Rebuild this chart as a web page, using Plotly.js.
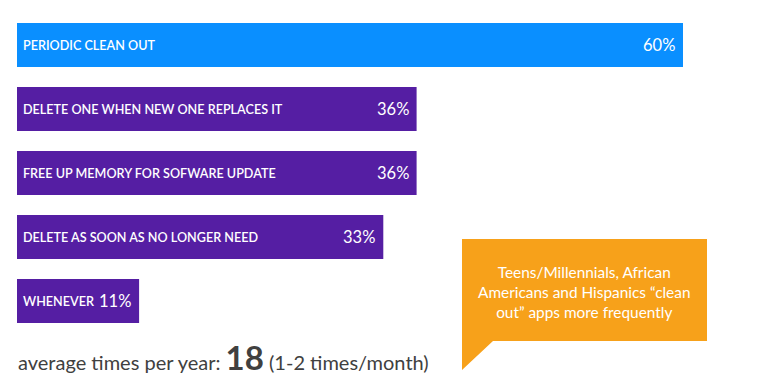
<!DOCTYPE html>
<html>
<head>
<meta charset="utf-8">
<script src="https://cdn.plot.ly/plotly-3.0.1.min.js"></script>
<style>html,body{margin:0;padding:0;background:#fff;}#chart{width:763px;height:388px;}</style>
</head>
<body>
<div id="chart"></div>
<script>
// ---- data ----
const categories = [
  "PERIODIC CLEAN OUT",
  "DELETE ONE WHEN NEW ONE REPLACES IT",
  "FREE UP MEMORY FOR SOFWARE UPDATE",
  "DELETE AS SOON AS NO LONGER NEED",
  "WHENEVER"
];
const values = [60, 36, 36, 33, 11];
const valueLabels = ["60%", "36%", "36%", "33%", "11%"];
const barColors = ["#0A8FFF", "#551EA3", "#551EA3", "#551EA3", "#551EA3"];
const footnote = "average times per year: ";
const footnoteNumber = "18";
const footnoteTail = " (1-2 times/month)";
const calloutText = "Teens/Millennials, African<br>Americans and Hispanics \u201cclean<br>out\u201d apps more frequently";

// ---- layout helpers ----
const W = 763, H = 388;
const M = {l: 17, r: 0, t: 13, b: 55};
const PW = W - M.l - M.r, PH = H - M.t - M.b;
const px = x => (x - M.l) / PW;
const py = y => (H - M.b - y) / PH;

const annotations = [];
categories.forEach((c, i) => {
  annotations.push({
    x: 0, y: c, xref: 'x', yref: 'y', text: c, showarrow: false,
    xanchor: 'left', yanchor: 'middle', xshift: 4,
    font: {family: 'Lato', size: 12.6, color: '#ffffff', weight: 600}
  });
  annotations.push({
    x: values[i], y: c, xref: 'x', yref: 'y', text: valueLabels[i], showarrow: false,
    xanchor: 'right', yanchor: 'middle', xshift: -6,
    font: {family: 'Lato', size: 16.5, color: '#ffffff'}
  });
});
annotations.push({
  x: px(16), y: py(357), xref: 'paper', yref: 'paper', xanchor: 'left', yanchor: 'middle',
  showarrow: false,
  text: footnote + '<b><span style="font-size:33px">' + footnoteNumber + '</span></b>' + footnoteTail,
  font: {family: 'Lato', size: 20, color: '#404040'}
});
annotations.push({
  x: px(584.5), y: py(292), xref: 'paper', yref: 'paper', xanchor: 'center', yanchor: 'middle',
  showarrow: false, align: 'center', text: calloutText,
  font: {family: 'Lato', size: 15.4, color: '#ffffff'}
});

const calloutPath = 'M ' + px(462) + ' ' + py(239) +
  ' L ' + px(707) + ' ' + py(239) +
  ' L ' + px(707) + ' ' + py(341) +
  ' L ' + px(493) + ' ' + py(341) +
  ' L ' + px(462) + ' ' + py(370) + ' Z';

const trace = {
  type: 'bar', orientation: 'h',
  x: values, y: categories,
  width: 0.69,
  marker: {color: barColors, line: {width: 0}},
  hoverinfo: 'none'
};

const layout = {
  width: W, height: H,
  margin: M,
  paper_bgcolor: '#ffffff', plot_bgcolor: '#ffffff',
  showlegend: false,
  xaxis: {range: [0, PW / 11.1], visible: false, fixedrange: true},
  yaxis: {type: 'category', range: [4.5, -0.5], visible: false, fixedrange: true},
  shapes: [{
    type: 'path', xref: 'paper', yref: 'paper', path: calloutPath,
    fillcolor: '#F7A11A', line: {width: 0}, layer: 'below'
  }],
  annotations: annotations
};

Plotly.newPlot('chart', [trace], layout, {displayModeBar: false, staticPlot: true});
</script>
</body>
</html>
